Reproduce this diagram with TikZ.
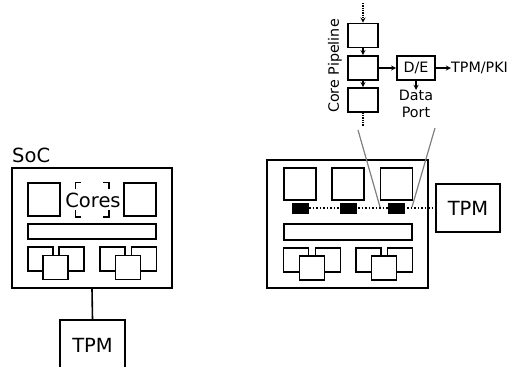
\documentclass[tikz,border=0pt]{standalone}
\usepackage{fontspec}
\setmainfont{DejaVu Sans}
\usepackage{tikz}
\usetikzlibrary{arrows,positioning,calc}

\begin{document}
\begin{tikzpicture}[
    x=1pt, y=-1pt,
    box/.style={draw, fill=white, line width=1.6pt, inner sep=0pt},
    bigtxt/.style={font=\fontsize{19.5}{22}\selectfont},
    smalltxt/.style={font=\fontsize{14.3}{17}\selectfont},
    core/.style={box, minimum width=32pt, minimum height=33pt},
    bus/.style={box, minimum width=128pt, minimum height=15pt},
    unit/.style={box, minimum width=25pt, minimum height=24pt},
    stage/.style={box, minimum width=30pt, minimum height=24pt},
    port/.style={fill=black, inner sep=0pt, minimum width=17pt, minimum height=11pt},
    arrow/.style={->, line width=1.3pt, >=stealth},
    zoomline/.style={gray, line width=1.2pt}
]
\useasboundingbox (0,0) rectangle (507,367);

% plain SoC with external TPM
\node[box, minimum width=160pt, minimum height=120pt] (soc) at (92,228) {};
\node[bigtxt, anchor=base west, inner sep=0pt] (soclbl) at (12,162) {SoC};
\node[core] (c1) at (44,199.5) {};
\node[minimum width=33pt, minimum height=34pt, inner sep=0pt] (c2) at (92,199.5) {};
\node[core] (c3) at (140,199.5) {};
\draw[line width=1.6pt] ($(c2.north west)+(0,7)$) -- (c2.north west) -- ++(6,0);
\draw[line width=1.6pt] ($(c2.north east)+(0,7)$) -- (c2.north east) -- ++(-6,0);
\draw[line width=1.6pt] ($(c2.south west)+(0,-7)$) -- (c2.south west) -- ++(6,0);
\draw[line width=1.6pt] ($(c2.south east)+(0,-7)$) -- (c2.south east) -- ++(-6,0);
\node[bigtxt, inner sep=0pt] (corelbl) at (93,200) {Cores};
\node[bus] (bus1) at (92,231.5) {};
\node[unit] (u1) at (40.5,259) {};
\node[unit] (u2) at (71.5,259) {};
\node[unit] (u3) at (55.5,267.5) {};
\node[unit] (u4) at (112.5,259) {};
\node[unit] (u5) at (144,259) {};
\node[unit] (u6) at (128,267.5) {};
\node[box, bigtxt, minimum width=65pt, minimum height=50pt] (tpma) at (92.5,345) {TPM};
\draw[line width=1.6pt] (soc.south) -- (tpma.north);

% SoC with ports on the core pipelines
\node[box, minimum width=161pt, minimum height=128pt] (socb) at (347.5,224) {};
\node[core, minimum height=32pt] (k1) at (300,184) {};
\node[core, minimum height=32pt] (k2) at (348,184) {};
\node[core, minimum height=32pt] (k3) at (396.5,184) {};
\node[box, bigtxt, minimum width=64pt, minimum height=48pt] (tpmb) at (468,208) {TPM};
\node[port] (p1) at (300.5,208) {};
\node[port] (p2) at (348,208) {};
\node[port] (p3) at (396.5,208) {};
\draw[dotted, line width=1.5pt] (p1.east) -- (tpmb.west);
\node[port] at (p2) {};
\node[port] at (p3) {};
\node[bus, minimum height=16pt] (bus2) at (348,232) {};
\node[unit] (v1) at (296,260) {};
\node[unit] (v2) at (328,260) {};
\node[unit] (v3) at (312,268) {};
\node[unit] (v4) at (368.5,260) {};
\node[unit] (v5) at (400,260) {};
\node[unit] (v6) at (384,268) {};

% zoomed pipeline
\coordinate (ztl) at (358,130);
\coordinate (ztr) at (435,128);
\coordinate (zbl) at (380,207);
\coordinate (zbr) at (412,207);
\draw[zoomline] (ztl) -- (zbl);
\draw[zoomline] (ztr) -- (zbr);

\node[stage] (s1) at (363,35.5) {};
\node[stage] (s2) at (363,68) {};
\node[stage] (s3) at (363,100) {};
\coordinate (pin) at (363,3);
\coordinate (pout) at (363,126);
\draw[arrow, densely dotted] (pin) -- (s1.north);
\draw[arrow] (s1.south) -- (s2.north);
\draw[arrow] (s2.south) -- (s3.north);
\draw[line width=1.3pt, densely dotted] (s3.south) -- (pout);
\node[smalltxt, rotate=90, inner sep=0pt] (pipelbl) at (335,66) {Core Pipeline};

\node[box, smalltxt, minimum width=38pt, minimum height=24pt] (de) at (416,68) {D/E};
\node[smalltxt, anchor=west, inner sep=0pt] (pki) at (451,68) {TPM/PKI};
\node[smalltxt, align=center, anchor=north, inner sep=0pt] (dport) at (416,90) {Data\\Port};
\draw[arrow] (s2.east) -- (de.west);
\draw[arrow] (de.east) -- (pki.west);
\draw[arrow] (de.south) -- (dport.north);

\end{tikzpicture}
\end{document}
